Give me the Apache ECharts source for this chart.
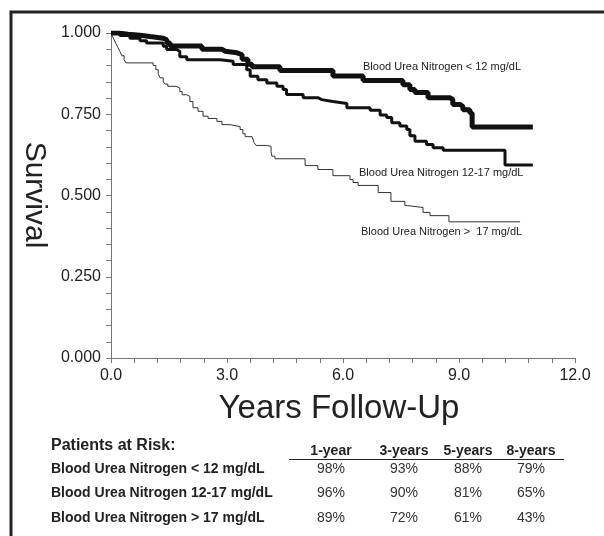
<!DOCTYPE html>
<html>
<head>
<meta charset="utf-8">
<script src="https://cdn.jsdelivr.net/npm/echarts@6/dist/echarts.min.js"></script>
<style>
html, body { margin: 0; padding: 0; background: #fff; }
#main { width: 604px; height: 536px; }
</style>
</head>
<body>
<div id="main"></div>
<script>
// Kaplan-Meier steps: time (years) of each drop, survival after it
var lowTimes = [0, 0.18, 0.44, 0.75, 1.01, 1.35, 1.44, 1.53, 2.35, 2.87, 2.95, 3.26, 3.39, 3.54, 3.65, 4.37, 5.74, 6.52, 7.55, 7.73, 7.86, 8.2, 8.77, 8.84, 9.03, 9.1, 9.28, 9.34, 10.91];
var lowSurv  = [1, 0.996, 0.993, 0.989, 0.984, 0.979, 0.969, 0.96, 0.95, 0.944, 0.939, 0.933, 0.919, 0.904, 0.896, 0.885, 0.868, 0.854, 0.841, 0.826, 0.817, 0.801, 0.795, 0.78, 0.774, 0.764, 0.754, 0.711, 0.711];

var midTimes = [0, 0.23, 0.49, 0.75, 0.92, 1.35, 1.44, 1.7, 1.78, 1.96, 2.82, 3.16, 3.51, 3.6, 3.8, 4.03, 4.29, 4.45, 4.54, 4.97, 5.35, 5.45, 5.74, 6.1, 6.7, 6.96, 7.13, 7.26, 7.47, 7.65, 7.73, 7.86, 8.16, 8.33, 8.59, 10.19, 10.91];
var midSurv  = [1, 0.992, 0.984, 0.976, 0.969, 0.959, 0.949, 0.943, 0.927, 0.918, 0.913, 0.903, 0.887, 0.867, 0.856, 0.846, 0.836, 0.826, 0.811, 0.801, 0.795, 0.789, 0.783, 0.77, 0.762, 0.748, 0.74, 0.724, 0.714, 0.703, 0.684, 0.667, 0.657, 0.647, 0.639, 0.594, 0.594];

var highTimes = [0, 0.03, 0.08, 0.13, 0.18, 0.23, 0.28, 0.34, 0.39, 1.09, 1.16, 1.22, 1.27, 1.35, 1.4, 1.47, 1.68, 1.78, 1.84, 1.96, 2.04, 2.12, 2.25, 2.38, 2.51, 2.74, 2.87, 3.08, 3.34, 3.41, 3.47, 3.65, 3.7, 3.75, 4.03, 4.14, 4.16, 4.24, 5.02, 5.35, 5.74, 6.18, 6.26, 6.39, 6.91, 7.24, 7.6, 7.66, 8.07, 8.25, 8.74, 10.58];
var highSurv  = [1, 0.992, 0.98, 0.967, 0.955, 0.943, 0.93, 0.918, 0.908, 0.9, 0.887, 0.875, 0.862, 0.85, 0.843, 0.836, 0.831, 0.82, 0.81, 0.805, 0.789, 0.77, 0.759, 0.744, 0.737, 0.728, 0.718, 0.712, 0.703, 0.69, 0.681, 0.677, 0.663, 0.654, 0.651, 0.635, 0.621, 0.613, 0.592, 0.58, 0.561, 0.549, 0.54, 0.531, 0.509, 0.482, 0.469, 0.463, 0.448, 0.438, 0.419, 0.419];

var curveLabels = ['Blood Urea Nitrogen < 12 mg/dL', 'Blood Urea Nitrogen 12-17 mg/dL', 'Blood Urea Nitrogen >  17 mg/dL'];

// patients at risk table
var riskHeaders = ['1-year', '3-years', '5-years', '8-years'];
var riskRows = ['Blood Urea Nitrogen < 12 mg/dL', 'Blood Urea Nitrogen 12-17 mg/dL', 'Blood Urea Nitrogen > 17 mg/dL'];
var riskValues = [
	['98%', '93%', '88%', '79%'],
	['96%', '90%', '81%', '65%'],
	['89%', '72%', '61%', '43%']
];

function pairs(t, s) {
	return t.map(function(v, i) { return [v, s[i]]; });
}

var font = 'Liberation Sans, Arial, Helvetica, sans-serif';
var chart = echarts.init(document.getElementById('main'));

var colX = [331, 404, 468, 531];
var rowY = [469, 493.5, 518];
var graphics = [
	{ type: 'polyline', shape: { points: [[11, 536], [11, 12], [604, 12]] }, style: { stroke: '#222', lineWidth: 3, fill: null } },
	{ type: 'text', x: 34, y: 195, rotation: -Math.PI / 2, style: { text: 'Survival', font: '30px ' + font, fill: '#222', align: 'center', verticalAlign: 'middle' } },
	{ type: 'text', x: 339, y: 409, style: { text: 'Years Follow-Up', font: '33px ' + font, fill: '#222', align: 'center', verticalAlign: 'middle' } },
	{ type: 'text', x: 363, y: 67, style: { text: curveLabels[0], font: '11px ' + font, fill: '#222', verticalAlign: 'middle' } },
	{ type: 'text', x: 359, y: 173, style: { text: curveLabels[1], font: '11px ' + font, fill: '#222', verticalAlign: 'middle' } },
	{ type: 'text', x: 361, y: 232, style: { text: curveLabels[2], font: '11px ' + font, fill: '#222', verticalAlign: 'middle' } },
	{ type: 'text', x: 51, y: 446, style: { text: 'Patients at Risk:', font: 'bold 16px ' + font, fill: '#222', verticalAlign: 'middle' } },
	{ type: 'line', shape: { x1: 289, y1: 459.5, x2: 564, y2: 459.5 }, style: { stroke: '#222', lineWidth: 1 } }
];
riskHeaders.forEach(function(h, j) {
	graphics.push({ type: 'text', x: colX[j], y: 451.5, style: { text: h, font: 'bold 14px ' + font, fill: '#222', align: 'center', verticalAlign: 'middle' } });
});
riskRows.forEach(function(r, i) {
	graphics.push({ type: 'text', x: 51, y: rowY[i], style: { text: r, font: 'bold 14px ' + font, fill: '#222', verticalAlign: 'middle' } });
	riskValues[i].forEach(function(v, j) {
		graphics.push({ type: 'text', x: colX[j], y: rowY[i], style: { text: v, font: '14px ' + font, fill: '#333', align: 'center', verticalAlign: 'middle' } });
	});
});

var axisGray = '#777';
chart.setOption({
	animation: false,
	backgroundColor: '#fff',
	grid: { left: 111, top: 33, right: 29, bottom: 178 },
	xAxis: {
		type: 'value', min: 0, max: 12, interval: 3,
		axisLine: { onZero: false, lineStyle: { color: axisGray, width: 1 } },
		axisTick: { length: 5, lineStyle: { color: axisGray } },
		minorTick: { show: true, splitNumber: 5, length: 5, lineStyle: { color: axisGray } },
		splitLine: { show: false },
		axisLabel: { margin: 10, fontSize: 16, color: '#222', fontFamily: font, formatter: function(v) { return v.toFixed(1); } }
	},
	yAxis: {
		type: 'value', min: 0, max: 1, interval: 0.25,
		axisLine: { show: true, lineStyle: { color: axisGray, width: 1 } },
		axisTick: { show: true, length: 5, lineStyle: { color: axisGray } },
		minorTick: { show: true, splitNumber: 5, length: 5, lineStyle: { color: axisGray } },
		splitLine: { show: false },
		axisLabel: { margin: 10, fontSize: 16, color: '#222', fontFamily: font, formatter: function(v) { return v.toFixed(3); } }
	},
	series: [{
		type: 'line', step: 'end', symbol: 'none', z: 3,
		data: pairs(lowTimes, lowSurv),
		lineStyle: { color: '#111', width: 5 }
	}, {
		type: 'line', step: 'end', symbol: 'none', z: 2,
		data: pairs(midTimes, midSurv),
		lineStyle: { color: '#111', width: 3 }
	}, {
		type: 'line', step: 'end', symbol: 'none', z: 1,
		data: pairs(highTimes, highSurv),
		lineStyle: { color: '#333', width: 1 }
	}],
	graphic: graphics
});
</script>
</body>
</html>
